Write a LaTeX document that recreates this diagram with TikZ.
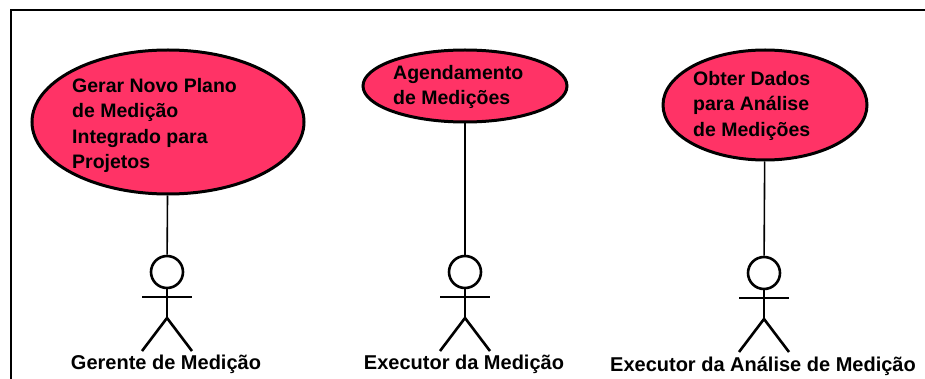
\documentclass[tikz,border=0pt]{standalone}
\usepackage{fontspec}
\setmainfont{Liberation Sans}
\usetikzlibrary{shapes.geometric}
\definecolor{usecase area}{HTML}{FF3366}
\tikzstyle{usecase}=[ellipse,fill=usecase area,draw=black,line width=3pt,inner sep=0pt]
\tikzstyle{usecase text}=[align=left,inner sep=0pt,font=\fontsize{19.5}{25.5}\selectfont\bfseries]
\tikzstyle{actor text}=[inner sep=0pt,font=\fontsize{20}{24}\selectfont\bfseries]
\tikzstyle{head}=[circle,draw=black,line width=2.6pt,minimum size=32pt,inner sep=0pt]
\tikzstyle{edge} = [draw, line width=1.6pt, -]
\tikzstyle{limb} = [draw, line width=2.6pt, -]
\tikzstyle{frame} = [draw, line width=2.6pt, -]

\begin{document}
\begin{tikzpicture}[x=1pt,y=-1pt]
    \useasboundingbox (0,0) rectangle (925,379);

    % frame, open at the right and at the bottom
    \coordinate (frame bottom) at (11,379);
    \coordinate (frame corner) at (11,10);
    \coordinate (frame right) at (925,10);
    \path[frame] (frame bottom) -- (frame corner) -- (frame right);

    % use cases
    \node[usecase,minimum width=272pt,minimum height=144pt] (plano) at (168,122) {};
    \node[usecase,minimum width=204pt,minimum height=72pt] (agenda) at (465,86) {};
    \node[usecase,minimum width=204pt,minimum height=110pt] (dados) at (765,105) {};

    \node[usecase text,anchor=north west] (plano text) at (72,78) {Gerar Novo Plano\\de Medição\\Integrado para\\Projetos};
    \node[usecase text,anchor=north west] (agenda text) at (393,65) {Agendamento\\de Medições};
    \node[usecase text,anchor=north west] (dados text) at (693,71) {Obter Dados\\para Análise\\de Medições};

    % actors, at the foot of each use case
    \foreach \name/\x/\y/\case in {gerente/167/272/plano, executor/465/272/agenda, analise/764/273/dados} {
      \node[head] (\name head) at (\x,\y) {};
      \coordinate (\name arm l) at (\x-25,\y+25);
      \coordinate (\name arm r) at (\x+25,\y+25);
      \coordinate (\name waist) at (\x,\y+46);
      \coordinate (\name leg l) at (\x-25,\y+79);
      \coordinate (\name leg r) at (\x+25,\y+79);
      \path[edge] (\case) -- (\name head);
      \path[limb] (\name head) -- (\name waist);
      \path[limb] (\name arm l) -- (\name arm r);
      \path[limb] (\name leg l) -- (\name waist) -- (\name leg r);
    }

    \node[actor text] (gerente text) at (166,364) {Gerente de Medição};
    \node[actor text] (executor text) at (464,364) {Executor da Medição};
    \node[actor text] (analise text) at (763,366) {Executor da Análise de Medição};
\end{tikzpicture}
\end{document}
